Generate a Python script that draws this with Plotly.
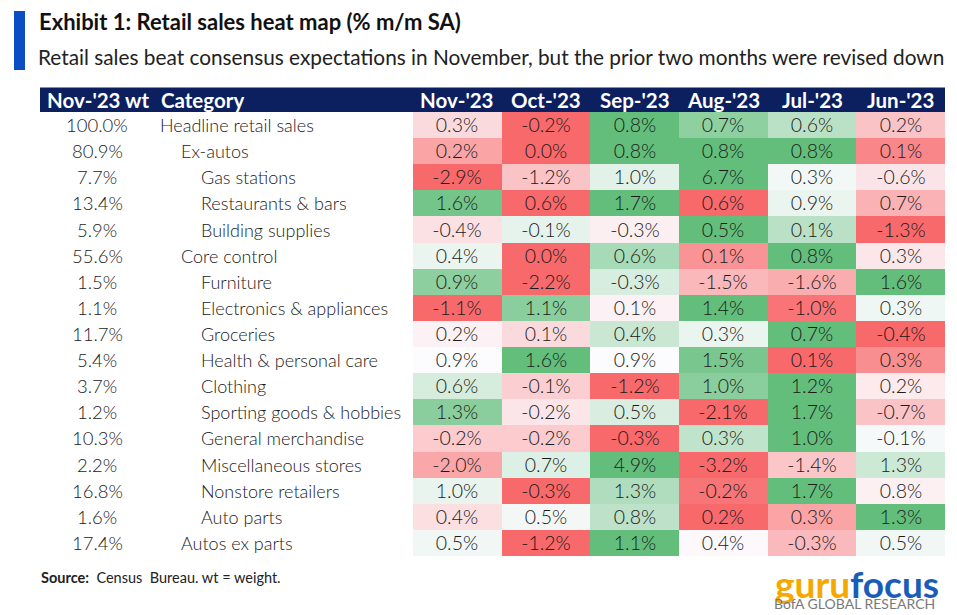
import numpy as np
import plotly.graph_objects as go

months = ["Nov-'23", "Oct-'23", "Sep-'23", "Aug-'23", "Jul-'23", "Jun-'23"]
categories = [
    "Headline retail sales", "Ex-autos", "Gas stations", "Restaurants & bars",
    "Building supplies", "Core control", "Furniture", "Electronics & appliances",
    "Groceries", "Health & personal care", "Clothing", "Sporting goods & hobbies",
    "General merchandise", "Miscellaneous stores", "Nonstore retailers",
    "Auto parts", "Autos ex parts",
]
levels = [0, 1, 2, 2, 2, 1, 2, 2, 2, 2, 2, 2, 2, 2, 2, 2, 1]
weights = [100.0, 80.9, 7.7, 13.4, 5.9, 55.6, 1.5, 1.1, 11.7, 5.4, 3.7, 1.2,
           10.3, 2.2, 16.8, 1.6, 17.4]
values = [
    [0.3, -0.2, 0.8, 0.7, 0.6, 0.2],
    [0.2, 0.0, 0.8, 0.8, 0.8, 0.1],
    [-2.9, -1.2, 1.0, 6.7, 0.3, -0.6],
    [1.6, 0.6, 1.7, 0.6, 0.9, 0.7],
    [-0.4, -0.1, -0.3, 0.5, 0.1, -1.3],
    [0.4, 0.0, 0.6, 0.1, 0.8, 0.3],
    [0.9, -2.2, -0.3, -1.5, -1.6, 1.6],
    [-1.1, 1.1, 0.1, 1.4, -1.0, 0.3],
    [0.2, 0.1, 0.4, 0.3, 0.7, -0.4],
    [0.9, 1.6, 0.9, 1.5, 0.1, 0.3],
    [0.6, -0.1, -1.2, 1.0, 1.2, 0.2],
    [1.3, -0.2, 0.5, -2.1, 1.7, -0.7],
    [-0.2, -0.2, -0.3, 0.3, 1.0, -0.1],
    [-2.0, 0.7, 4.9, -3.2, -1.4, 1.3],
    [1.0, -0.3, 1.3, -0.2, 1.7, 0.8],
    [0.4, 0.5, 0.8, 0.2, 0.3, 1.3],
    [0.5, -1.2, 1.1, 0.4, -0.3, 0.5],
]


def row_scale(row):
    r = np.array(row, dtype=float)
    mn, mx, med = r.min(), r.max(), np.percentile(r, 50)
    out = []
    for v in r:
        if v < med:
            out.append((v - med) / (med - mn) if med > mn else 0.0)
        else:
            out.append((v - med) / (mx - med) if mx > med else 0.0)
    return out


z = [row_scale(r) for r in values]
text = [[f"{v:.1f}%" for v in r] for r in values]

W, H = 957, 615
def px(x):
    return x / W
def py(y):
    return 1 - y / H

LIGHT = "Lato"
BOLD = "Lato"
TXT = "#1a1a1a"

fig = go.Figure()
fig.add_trace(go.Heatmap(
    x=months, y=categories, z=z, text=text, texttemplate="%{text}",
    textfont=dict(family=LIGHT, size=19.5, color=TXT, weight=300),
    colorscale=[[0, "#F8696B"], [0.5, "#FCFCFF"], [1, "#63BE7B"]],
    zmin=-1, zmax=1, showscale=False, xgap=0, ygap=0, hoverinfo="skip",
))

annotations = []
hdr_font = dict(family=BOLD, size=20.5, color="white", weight="bold")
annotations.append(dict(x=px(45), y=py(100), xref="paper", yref="paper", text="Nov-'23 wt",
                        showarrow=False, xanchor="left", yanchor="middle", font=hdr_font))
annotations.append(dict(x=px(159), y=py(100), xref="paper", yref="paper", text="Category",
                        showarrow=False, xanchor="left", yanchor="middle", font=hdr_font))
for m in months:
    annotations.append(dict(x=m, y=py(100), xref="x", yref="paper", text=m,
                            showarrow=False, xanchor="center", yanchor="middle", font=hdr_font))
for c, lv, w in zip(categories, levels, weights):
    annotations.append(dict(x=px(97), y=c, xref="paper", yref="y", text=f"{w:.1f}%",
                            showarrow=False, xanchor="center", yanchor="middle",
                            font=dict(family=LIGHT, size=18.5, color=TXT, weight=300)))
    annotations.append(dict(x=px(158 + 20.5 * lv), y=c, xref="paper", yref="y", text=c,
                            showarrow=False, xanchor="left", yanchor="middle",
                            font=dict(family=LIGHT, size=18, color=TXT, weight=300)))
annotations.append(dict(x=px(37), y=py(21), xref="paper", yref="paper",
                        text="Exhibit 1: Retail sales heat map (% m/m SA)",
                        showarrow=False, xanchor="left", yanchor="middle",
                        font=dict(family=BOLD, size=22, color="#111111", weight="bold")))
annotations.append(dict(x=px(36), y=py(56), xref="paper", yref="paper",
                        text="Retail sales beat consensus expectations in November, but the prior two months were revised down",
                        showarrow=False, xanchor="left", yanchor="middle",
                        font=dict(family=LIGHT, size=20.8, color="#222222", weight=400)))
annotations.append(dict(x=px(39), y=py(577), xref="paper", yref="paper",
                        text="<b>Source:</b>  Census  Bureau. wt = weight.",
                        showarrow=False, xanchor="left", yanchor="middle",
                        font=dict(family=LIGHT, size=14.5, color="#222222")))
annotations.append(dict(x=px(941), y=py(583), xref="paper", yref="paper",
                        text="<b><span style='color:#F5A800'>guru</span><span style='color:#1A5DB8'>focus</span></b>",
                        showarrow=False, xanchor="right", yanchor="middle",
                        font=dict(family=BOLD, size=37)))
annotations.append(dict(x=px(937), y=py(603), xref="paper", yref="paper",
                        text="BofA GLOBAL RESEARCH",
                        showarrow=False, xanchor="right", yanchor="middle",
                        font=dict(family=LIGHT, size=14, color="#7a7a7a")))

shapes = [
    dict(type="rect", xref="paper", yref="paper", x0=px(40), x1=px(945), y0=py(112), y1=py(87.5),
         fillcolor="#0C2060", line=dict(width=0), layer="below"),
    dict(type="rect", xref="paper", yref="paper", x0=px(14), x1=px(25), y0=py(70), y1=py(11),
         fillcolor="#0B4DC4", line=dict(width=0)),
]

fig.update_layout(
    width=W, height=H, margin=dict(l=0, r=0, t=0, b=0),
    paper_bgcolor="white", plot_bgcolor="white",
    xaxis=dict(domain=[px(413), px(945)], showticklabels=False, showgrid=False,
               zeroline=False, ticks=""),
    yaxis=dict(domain=[py(556), py(112)], autorange="reversed", showticklabels=False,
               showgrid=False, zeroline=False, ticks=""),
    annotations=annotations, shapes=shapes, showlegend=False,
)

fig.write_html("out.html", config={"displayModeBar": False},
               post_script="document.body.style.margin='0px';")
